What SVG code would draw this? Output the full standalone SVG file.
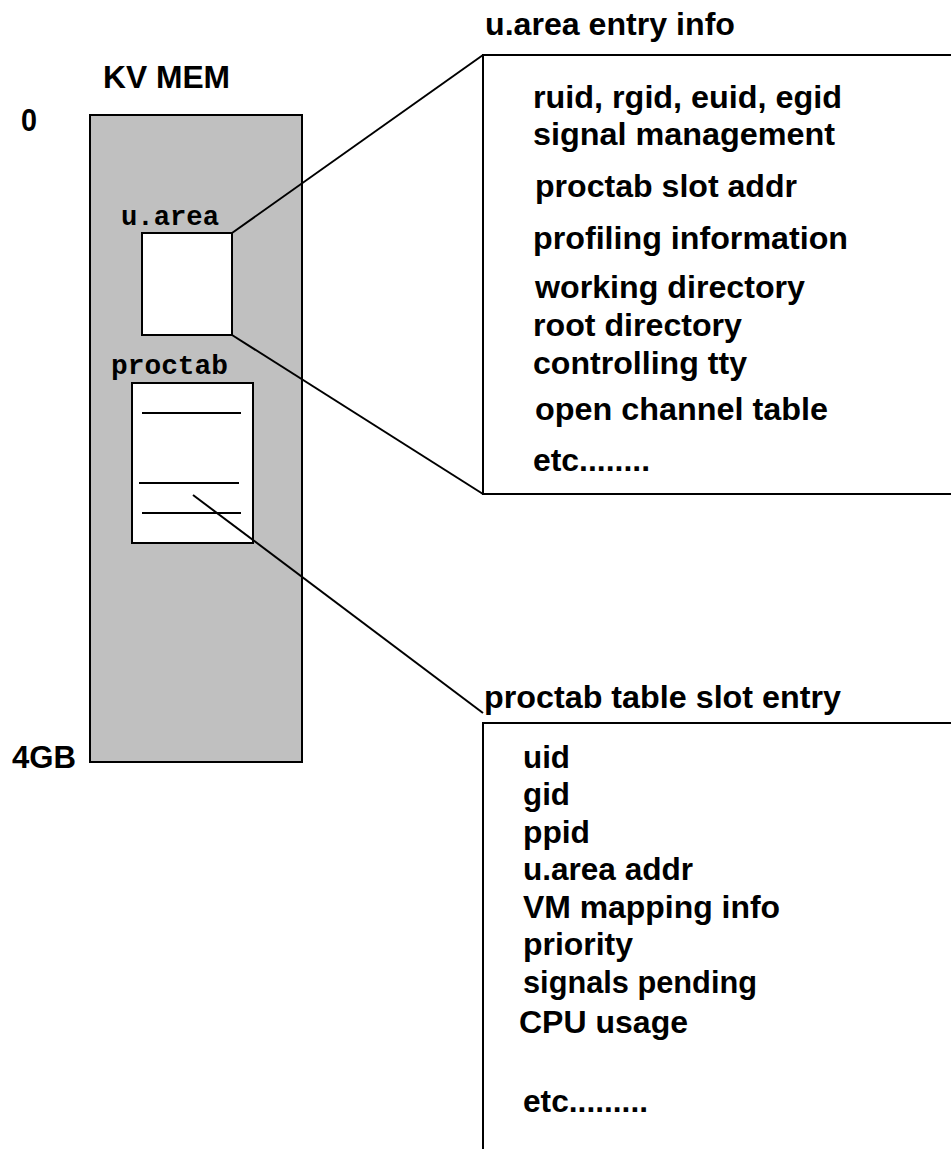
<svg xmlns="http://www.w3.org/2000/svg" width="951" height="1149" viewBox="0 0 951 1149">
<style>
.t{font-family:"Liberation Sans",Arial,sans-serif;font-weight:bold;font-size:31px;fill:#000}
.m{font-family:"Liberation Mono","Courier New",monospace;font-weight:bold;font-size:27px;fill:#000}
.s{stroke:#000;stroke-width:2;fill:none}
</style>
<rect width="951" height="1149" fill="#fff"/>
<g id="kvmem">
<rect x="90" y="115" width="212" height="647" fill="#c0c0c0" stroke="#000" stroke-width="2"/>
<text class="t" x="103" y="88" textLength="127" lengthAdjust="spacingAndGlyphs">KV MEM</text>
<text class="t" x="21" y="131" textLength="16" lengthAdjust="spacingAndGlyphs">0</text>
<text class="t" x="12" y="768" textLength="64" lengthAdjust="spacingAndGlyphs">4GB</text>
</g>
<g id="uarea">
<rect x="142" y="233" width="90" height="102" fill="#fff" stroke="#000" stroke-width="2"/>
<text class="m" x="121" y="225" textLength="98" lengthAdjust="spacingAndGlyphs">u.area</text>
</g>
<g id="proctab">
<rect x="132" y="383" width="121" height="160" fill="#fff" stroke="#000" stroke-width="2"/>
<text class="m" x="111" y="374" textLength="117" lengthAdjust="spacingAndGlyphs">proctab</text>
<line class="s" x1="142" y1="413" x2="241" y2="413"/>
<line class="s" x1="139" y1="483" x2="239" y2="483"/>
<line class="s" x1="142" y1="513" x2="241" y2="513"/>
</g>
<g id="uarea-info">
<polyline class="s" points="952,55 483,55 483,494 952,494"/>
<text class="t" x="485" y="35" textLength="250" lengthAdjust="spacingAndGlyphs">u.area entry info</text>
<text class="t" x="533" y="108" textLength="309" lengthAdjust="spacingAndGlyphs">ruid, rgid, euid, egid</text>
<text class="t" x="533" y="145" textLength="302" lengthAdjust="spacingAndGlyphs">signal management</text>
<text class="t" x="535" y="197" textLength="262" lengthAdjust="spacingAndGlyphs">proctab slot addr</text>
<text class="t" x="533" y="249" textLength="315" lengthAdjust="spacingAndGlyphs">profiling information</text>
<text class="t" x="535" y="298" textLength="270" lengthAdjust="spacingAndGlyphs">working directory</text>
<text class="t" x="533" y="336" textLength="209" lengthAdjust="spacingAndGlyphs">root directory</text>
<text class="t" x="533" y="374" textLength="214" lengthAdjust="spacingAndGlyphs">controlling tty</text>
<text class="t" x="535" y="420" textLength="293" lengthAdjust="spacingAndGlyphs">open channel table</text>
<text class="t" x="533" y="471" textLength="117" lengthAdjust="spacingAndGlyphs">etc........</text>
</g>
<g id="proctab-entry">
<polyline class="s" points="952,723 483,723 483,1150"/>
<text class="t" x="484" y="708" textLength="357" lengthAdjust="spacingAndGlyphs">proctab table slot entry</text>
<text class="t" x="523" y="768" textLength="47" lengthAdjust="spacingAndGlyphs">uid</text>
<text class="t" x="523" y="805" textLength="47" lengthAdjust="spacingAndGlyphs">gid</text>
<text class="t" x="523" y="843" textLength="67" lengthAdjust="spacingAndGlyphs">ppid</text>
<text class="t" x="523" y="880" textLength="170" lengthAdjust="spacingAndGlyphs">u.area addr</text>
<text class="t" x="523" y="918" textLength="257" lengthAdjust="spacingAndGlyphs">VM mapping info</text>
<text class="t" x="523" y="955" textLength="110" lengthAdjust="spacingAndGlyphs">priority</text>
<text class="t" x="523" y="993" textLength="234" lengthAdjust="spacingAndGlyphs">signals pending</text>
<text class="t" x="519" y="1033" textLength="169" lengthAdjust="spacingAndGlyphs">CPU usage</text>
<text class="t" x="523" y="1112" textLength="125" lengthAdjust="spacingAndGlyphs">etc.........</text>
</g>
<g id="connectors">
<line class="s" x1="232" y1="233" x2="483" y2="55"/>
<line class="s" x1="232" y1="335" x2="483" y2="494"/>
<line class="s" x1="193" y1="495" x2="483" y2="713"/>
</g>
</svg>
